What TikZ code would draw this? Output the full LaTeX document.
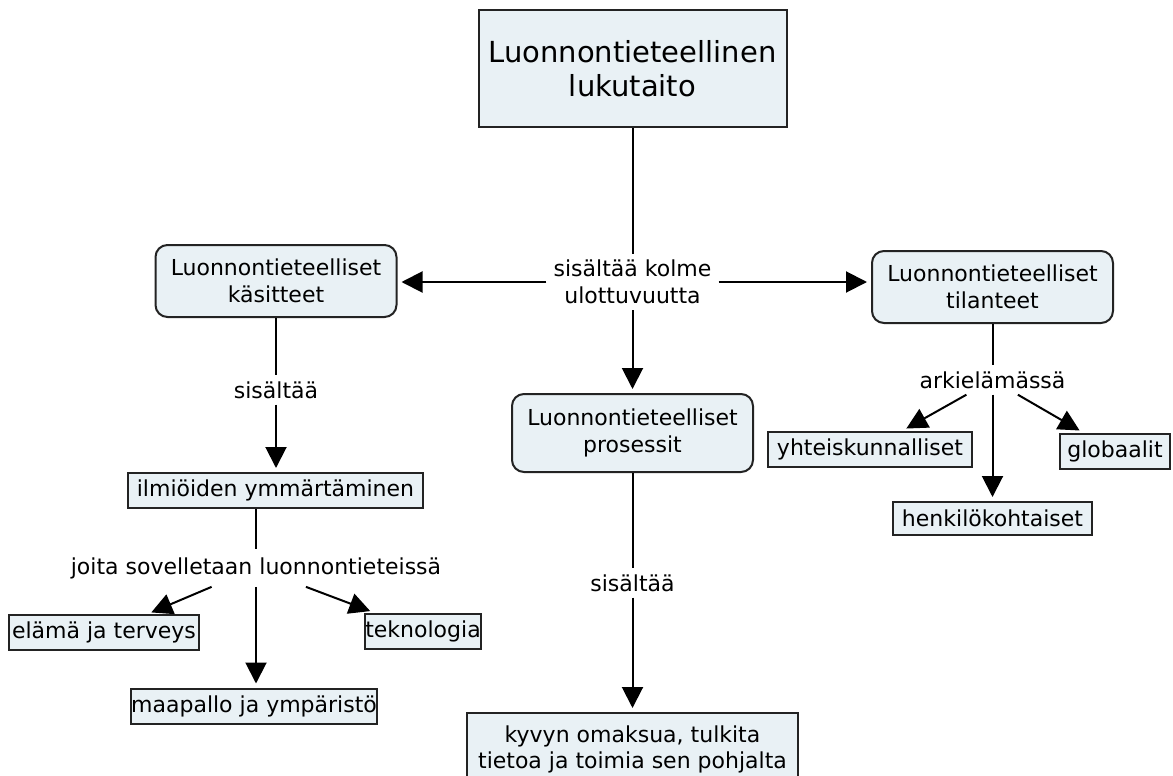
\documentclass[tikz,border=0pt]{standalone}
\usepackage{fontspec}
\setmainfont{DejaVu Sans}
\usetikzlibrary{arrows.meta}
\definecolor{boxfill}{RGB}{233,241,245}
\definecolor{edge}{RGB}{35,35,35}
\begin{document}
\begin{tikzpicture}[x=1pt,y=-1pt,
  every node/.style={font=\fontsize{22}{27}\selectfont, text=black},
  concept/.style={draw=edge, fill=boxfill, line width=2pt, rounded corners=12pt,
    align=center, inner sep=0pt, minimum width=241pt, minimum height=72pt},
  leaf/.style={draw=edge, fill=boxfill, line width=2pt, align=center,
    inner sep=0pt, minimum height=35pt},
  link/.style={align=center, inner xsep=7pt, inner ysep=6pt},
  conn/.style={line width=2pt, draw=black},
  arr/.style={conn, -{Triangle[length=21pt,width=21pt]}, shorten >=4pt}]
\useasboundingbox (0,0) rectangle (1173,776);
\clip (0,0) rectangle (1173,776);

% concepts
\node[concept, rounded corners=0pt, minimum width=308pt, minimum height=117pt,
  font=\fontsize{29}{34}\selectfont] (title) at (632.5,68.5) {Luonnontieteellinen\\lukutaito};
\node[concept] (kas) at (276,281) {Luonnontieteelliset\\käsitteet};
\node[concept] (til) at (992.5,287) {Luonnontieteelliset\\tilanteet};
\node[concept, minimum height=78pt] (pro) at (632.5,433) {Luonnontieteelliset\\prosessit};

% leaf boxes
\node[leaf, minimum width=295pt] (ilm) at (275.5,490.5) {ilmiöiden ymmärtäminen};
\node[leaf, minimum width=190pt] (ela) at (104,632.5) {elämä ja terveys};
\node[leaf, minimum width=114pt] (tek) at (423,631) {teknologia};
\node[leaf, minimum width=240pt] (maa) at (254,706) {maapallo ja ympäristö};
\node[leaf, minimum width=204pt] (yht) at (870,449) {yhteiskunnalliset};
\node[leaf, minimum width=110pt] (glo) at (1115,451) {globaalit};
\node[leaf, minimum width=199pt, minimum height=33pt] (hen) at (992.5,518.5) {henkilökohtaiset};
\node[leaf, minimum width=331pt, minimum height=72pt,
  font=\fontsize{22}{26}\selectfont] (kyv) at (632.5,749) {kyvyn omaksua, tulkita\\tietoa ja toimia sen pohjalta};

% linking phrases
\node[link] (l1) at (632.5,282) {sisältää kolme\\ulottuvuutta};
\node[link] (l2) at (276,390) {sisältää};
\node[link, inner ysep=8pt] (l3) at (256,568) {joita sovelletaan luonnontieteissä};
\node[link] (l4) at (632.5,583) {sisältää};
\node[link] (l5) at (992.5,380) {arkielämässä};

% connectors
\draw[conn] (title) -- (l1);
\draw[arr] (l1) -- (l1 -| kas.east);
\draw[arr] (l1) -- (l1 -| til.west);
\draw[arr] (l1) -- (pro);

\draw[conn] (kas) -- (l2);
\draw[arr] (l2) -- (l2 |- ilm.north);
\draw[conn] (ilm.south -| l3) -- (l3);
\draw[arr] (l3) -- (ela);
\draw[arr] (l3) -- (tek);
\draw[arr] (l3) -- (l3 |- maa.north);

\draw[conn] (pro) -- (l4);
\draw[arr] (l4) -- (kyv);

\draw[conn] (til) -- (l5);
\draw[arr] (l5) -- (yht);
\draw[arr] (l5) -- (glo);
\draw[arr] (l5) -- (hen);
\end{tikzpicture}
\end{document}
